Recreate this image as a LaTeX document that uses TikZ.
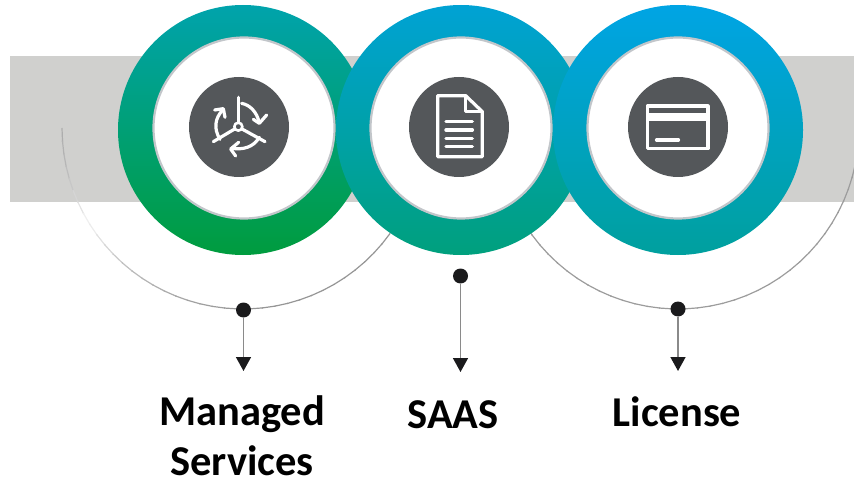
\documentclass[tikz,border=0pt]{standalone}
\usepackage{fontspec}
\setmainfont{Carlito}
\usetikzlibrary{arrows.meta,calc}
\definecolor{band}{HTML}{D0D0CE}
\definecolor{disc}{HTML}{54575A}
\definecolor{rim}{HTML}{C2C6CA}
\definecolor{dotc}{HTML}{1A1A1C}
\definecolor{linec}{HTML}{8A8A8A}
\definecolor{aT}{RGB}{0,163,172}\definecolor{aM}{RGB}{0,158,146}\definecolor{aB}{RGB}{0,156,62}
\definecolor{bT}{RGB}{0,162,212}\definecolor{bM}{RGB}{0,158,170}\definecolor{bB}{RGB}{0,160,125}
\definecolor{cT}{RGB}{0,164,228}\definecolor{cM}{RGB}{0,161,200}\definecolor{cB}{RGB}{0,160,158}
\tikzset{
  ringc/.style={circle,minimum size=250pt,inner sep=0pt},
  hole/.style={circle,minimum size=181pt,inner sep=0pt,fill=white,draw=rim,line width=2.2pt},
  iconDisc/.style={circle,minimum size=100pt,inner sep=0pt,fill=disc},
  dotn/.style={circle,minimum size=15pt,inner sep=0pt,fill=dotc},
  conn/.style={draw=linec,line width=1.5pt,-{Triangle[length=14pt,width=15pt,color=dotc]}},
  label/.style={font=\fontsize{42.5}{50}\selectfont\bfseries,text=black,align=center,inner sep=0pt},
  ico/.style={draw=white,line width=3.2pt,line cap=round,line join=round},
  arcthin/.style={line width=1.2pt,line cap=butt},
}
\begin{document}
\begin{tikzpicture}[x=1pt,y=-1pt]
\useasboundingbox (0,0) rectangle (854,481);
\fill[band] (10,56) rectangle (854,202);
% left arc with fading
\foreach \a/\c in {180/70,184/66,188/62,192/56,196/48,200/36,204/24,208/14,212/16,216/26,220/36,224/46,228/54,232/60,236/64,240/68,244/72,248/76,252/80,256/82,260/84,264/86,268/88,272/90,276/90,280/90,284/90,288/90,292/90,296/90,300/90,304/90,308/90,312/90,316/90,320/90}{
  \pgfmathsetmacro{\e}{\a+4.4}
  \draw[arcthin,draw=linec!\c!white] ({243+181*cos(\a)},{128-181*sin(\a)}) -- ({243+181*cos(\e)},{128-181*sin(\e)});
}
% right arc
\foreach \a/\c in {212/85,216/85,220/85,224/85,228/85,232/85,236/85,240/85,244/85,248/85,252/85,256/85,260/85,264/85,268/85,272/85,276/85,280/85,284/85,288/85,292/85,296/85,300/85,304/85,308/85,312/85,316/85,320/85,324/85,328/85,332/85,336/85,340/85,344/85}{
  \pgfmathsetmacro{\e}{\a+4.4}
  \draw[arcthin,draw=linec!\c!white] ({678+181*cos(\a)},{128-181*sin(\a)}) -- ({678+181*cos(\e)},{128-181*sin(\e)});
}
% rings
\node[ringc,top color=aT,middle color=aM,bottom color=aB] (r1) at (243,130) {};
\node[ringc,top color=bT,middle color=bM,bottom color=bB] (r2) at (461,130) {};
\node[ringc,top color=cT,middle color=cM,bottom color=cB] (r3) at (678,130) {};
\node[hole] (h1) at (244,128) {};
\node[hole] (h2) at (461,128) {};
\node[hole] (h3) at (678,128) {};
\node[iconDisc] (d1) at (239,127) {};
\node[iconDisc] (d2) at (459,127) {};
\node[iconDisc] (d3) at (678,127) {};
% icon 1
\begin{scope}[shift={(170,60)},x=0.3333pt,y=-0.3333pt]
  \draw[ico] (205,112) -- (205,188);
  \draw[ico] (194,207) -- (130,245);
  \draw[ico] (216,207) -- (285,245);
  \draw[ico,line width=2.6pt] (205,200) circle[radius=12];
  \draw[ico] (215,130) .. controls (240,135) and (260,155) .. (268,188);
  \draw[ico] (250,178) -- (268,190) -- (290,165);
  \draw[ico] (268,232) .. controls (250,262) and (220,270) .. (185,265);
  \draw[ico] (206,247) -- (182,267) -- (197,288);
  \draw[ico] (150,238) .. controls (130,205) and (135,175) .. (158,150);
  \draw[ico] (134,150) -- (160,146) -- (165,172);
\end{scope}
% icon 2
\begin{scope}[shift={(400,70)},x=0.3333pt,y=-0.3333pt]
  \draw[ico] (113,260) -- (113,77) -- (197,77) -- (247,125) -- (247,260) -- cycle;
  \draw[ico] (197,77) -- (197,125) -- (247,125);
  \draw[ico,line width=3.4pt] (138,155) -- (217,155);
  \draw[ico,line width=3.4pt] (138,180) -- (217,180);
  \draw[ico,line width=3.4pt] (138,205) -- (217,205);
  \draw[ico,line width=3.4pt] (138,230) -- (217,230);
\end{scope}
% icon 3
\begin{scope}[shift={(620,70)},x=0.3333pt,y=-0.3333pt]
  \draw[ico] (82,108) rectangle (264,236);
  \fill[white] (82,130) rectangle (264,152);
  \draw[ico,line width=3.6pt] (110,210) -- (175,210);
\end{scope}
% connectors
\node[dotn] (p1) at (243.5,310) {};
\node[dotn] (p2) at (460.5,276) {};
\node[dotn] (p3) at (678,309) {};
\coordinate (e1) at (243.5,371);
\coordinate (e2) at (460.5,372);
\coordinate (e3) at (678,371);
\draw[conn] (p1) -- (e1);
\draw[conn] (p2) -- (e2);
\draw[conn] (p3) -- (e3);
\node[label] (t1) at (242,436) {Managed\\Services};
\node[label] (t2) at (453,415) {SAAS};
\node[label] (t3) at (677,412) {License};
\end{tikzpicture}
\end{document}
